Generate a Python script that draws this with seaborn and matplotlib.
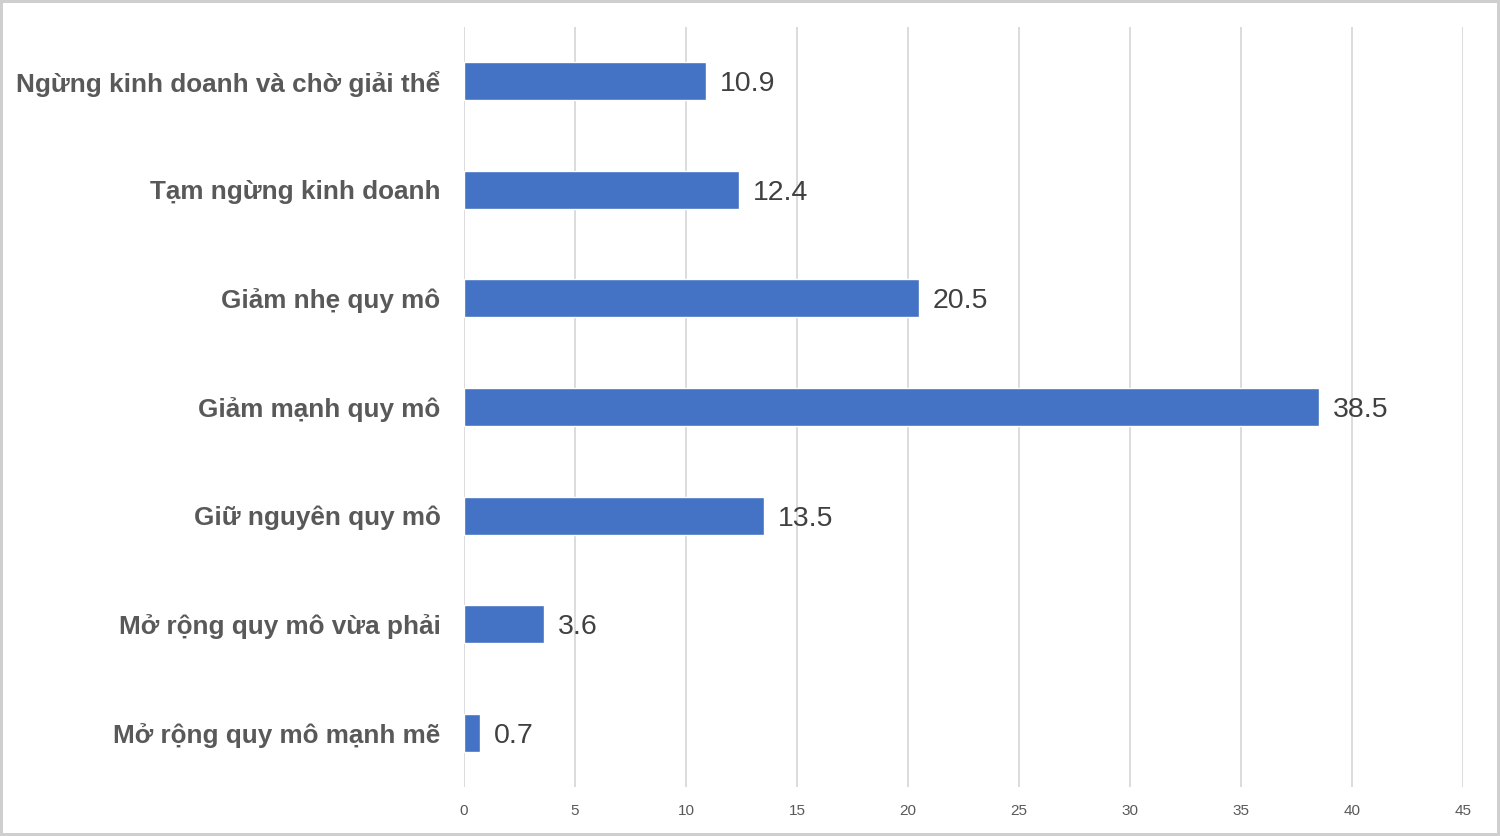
import matplotlib
matplotlib.use("Agg")
import matplotlib.pyplot as plt
import seaborn as sns
import pandas as pd

categories = [
    "Ngừng kinh doanh và chờ giải thể",
    "Tạm ngừng kinh doanh",
    "Giảm nhẹ quy mô",
    "Giảm mạnh quy mô",
    "Giữ nguyên quy mô",
    "Mở rộng quy mô vừa phải",
    "Mở rộng quy mô mạnh mẽ",
]
values = [10.9, 12.4, 20.5, 38.5, 13.5, 3.6, 0.7]
x_ticks = [0, 5, 10, 15, 20, 25, 30, 35, 40, 45]

df = pd.DataFrame({"cat": categories, "val": values})

sns.set_theme(style="white")
plt.rcParams["font.family"] = ["Liberation Sans", "DejaVu Sans"]

fig = plt.figure(figsize=(15, 8.36), dpi=100)
fig.patch.set_facecolor("white")
fig.patch.set_edgecolor("#cfcfcf")
fig.patch.set_linewidth(3)
ax = fig.add_axes([464/1500, 1-787/836, (1463-464)/1500, (787-27)/836])

sns.barplot(data=df, y="cat", x="val", orient="h", color="#4472C4",
            saturation=1, width=0.35, ax=ax, zorder=3)

ax.set_xlim(0, 45)
ax.set_ylim(6.5, -0.5)
ax.set_xticks(x_ticks)
ax.set_xticklabels([str(t) for t in x_ticks], fontsize=11, color="#595959")
ax.xaxis.grid(True, color="#d9d9d9", linewidth=1.3, zorder=0)
ax.set_axisbelow(True)
ax.tick_params(axis="x", length=0, pad=12)
ax.tick_params(axis="y", length=0, pad=17)
for lab in ax.get_yticklabels():
    lab.set_fontsize(18.8)
    lab.set_fontweight("bold")
    lab.set_color("#595959")
for s in ax.spines.values():
    s.set_visible(False)
ax.set_xlabel("")
ax.set_ylabel("")

for i, v in enumerate(values):
    ax.annotate(f"{v}", xy=(v, i), xytext=(14, -3), textcoords="offset pixels",
                ha="left", va="center", fontsize=20.5, color="#404040")

fig.savefig("out.png", dpi=100, facecolor=fig.get_facecolor(), edgecolor=fig.get_edgecolor())
